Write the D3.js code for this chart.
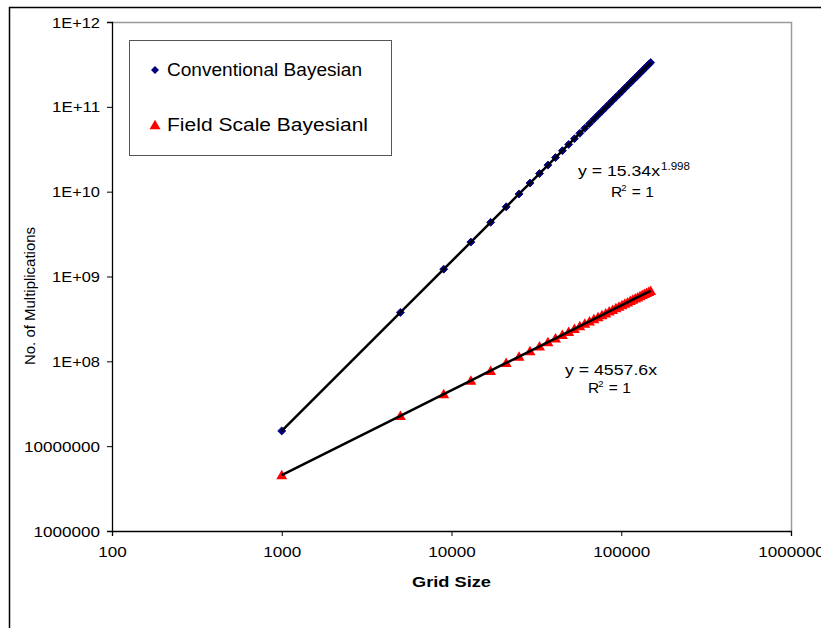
<!DOCTYPE html>
<html>
<head>
<meta charset="utf-8">
<script src="https://cdn.jsdelivr.net/npm/d3@7"></script>
<style>
  body { margin: 0; background: #fff; }
  svg { display: block; font-family: "Liberation Sans", Arial, sans-serif; }
</style>
</head>
<body>
<div id="chart"></div>
<script>
// Grid sizes (shared by both series)
const gridSizes = [1000, 5000, 9000, 13000, 17000, 21000, 25000, 29000, 33000, 37000,
  41000, 45000, 49000, 53000, 57000, 61000, 65000, 69000, 73000, 77000,
  81000, 85000, 89000, 93000, 97000, 101000, 105000, 109000, 113000, 117000,
  121000, 125000, 129000, 133000, 137000, 141000, 145000, 149000];

// Conventional Bayesian: number of multiplications
const conventional = [1.513e7, 3.770e8, 1.220e9, 2.544e9, 4.348e9, 6.632e9, 9.395e9, 1.2639e10, 1.6361e10, 2.0564e10,
  2.5245e10, 3.0405e10, 3.6044e10, 4.2163e10, 4.8761e10, 5.5837e10, 6.3392e10, 7.1425e10, 7.9935e10, 8.893e10,
  9.8395e10, 1.08346e11, 1.18768e11, 1.29674e11, 1.4106e11, 1.52923e11, 1.65254e11, 1.78072e11, 1.91369e11, 2.05143e11,
  2.19395e11, 2.34125e11, 2.49332e11, 2.65017e11, 2.81179e11, 2.97837e11, 3.14955e11, 3.32549e11];

// Field Scale Bayesian: number of multiplications
const fieldScale = [4.5576e6, 2.2788e7, 4.1018e7, 5.9249e7, 7.7479e7, 9.571e7, 1.1394e8, 1.3217e8, 1.50401e8, 1.68631e8,
  1.86862e8, 2.05092e8, 2.23322e8, 2.41553e8, 2.59783e8, 2.78014e8, 2.96244e8, 3.14474e8, 3.32705e8, 3.50935e8,
  3.69166e8, 3.87396e8, 4.05626e8, 4.23857e8, 4.42087e8, 4.60318e8, 4.78548e8, 4.96778e8, 5.15009e8, 5.33239e8,
  5.5147e8, 5.697e8, 5.8793e8, 6.06161e8, 6.24391e8, 6.42622e8, 6.60852e8, 6.79082e8];

// Axis ticks and labels
const xTicks = [100, 1000, 10000, 100000, 1000000];
const xTickLabels = ["100", "1000", "10000", "100000", "1000000"];
const yTicks = [1e6, 1e7, 1e8, 1e9, 1e10, 1e11, 1e12];
const yTickLabels = ["1000000", "10000000", "1E+08", "1E+09", "1E+10", "1E+11", "1E+12"];

const seriesNames = ["Conventional Bayesian", "Field Scale Bayesianl"];

const W = 821, H = 628;
const plot = { left: 112, right: 791, top: 22, bottom: 531 };

const svg = d3.select("#chart").append("svg")
  .attr("width", W)
  .attr("height", H);

// outer chart frame (runs off the right and bottom of the picture)
svg.append("rect")
  .attr("x", 9.5).attr("y", 7.5)
  .attr("width", W + 20).attr("height", H + 20)
  .attr("fill", "none")
  .attr("stroke", "#000")
  .attr("stroke-width", 1.5);

const x = d3.scaleLog().domain([100, 1e6]).range([plot.left, plot.right]);
const y = d3.scaleLog().domain([1e6, 1e12]).range([plot.bottom, plot.top]);

// plot area: grey top / right edges
svg.append("path")
  .attr("d", `M${plot.left},${plot.top + 0.5}H${plot.right + 0.5}V${plot.bottom}`)
  .attr("fill", "none")
  .attr("stroke", "#9a9a9a")
  .attr("stroke-width", 1.5);

// the original text is drawn a bit wide, so stretch labels to its widths
const labelWidth = (s) => (s.includes("E") ? 48 : s.length * 9.5);

// Axes
const xAxis = svg.append("g")
  .attr("transform", `translate(0,${plot.bottom})`)
  .call(d3.axisBottom(x).tickValues(xTicks).tickSize(5).tickPadding(11)
    .tickFormat((d, i) => xTickLabels[i]));

const yAxis = svg.append("g")
  .attr("transform", `translate(${plot.left},0)`)
  .call(d3.axisLeft(y).tickValues(yTicks).tickSize(5).tickPadding(7)
    .tickFormat((d, i) => yTickLabels[i]));

[xAxis, yAxis].forEach((g) => {
  g.select(".domain").attr("stroke", "#000").attr("stroke-width", 1.3);
  g.selectAll(".tick line").attr("stroke", "#000");
  g.selectAll(".tick text")
    .attr("fill", "#000")
    .attr("font-size", 14)
    .attr("font-family", "Liberation Sans, Arial, sans-serif")
    .attr("lengthAdjust", "spacingAndGlyphs")
    .attr("textLength", function () { return labelWidth(this.textContent); });
});
yAxis.selectAll(".tick text").attr("dy", "0.36em");

// Axis titles
svg.append("text")
  .attr("x", (plot.left + plot.right) / 2)
  .attr("y", 587)
  .attr("text-anchor", "middle")
  .attr("font-size", 14)
  .attr("font-weight", "bold")
  .attr("lengthAdjust", "spacingAndGlyphs")
  .attr("textLength", 79)
  .text("Grid Size");

svg.append("text")
  .attr("transform", "translate(35,296) rotate(-90)")
  .attr("text-anchor", "middle")
  .attr("font-size", 14)
  .attr("lengthAdjust", "spacingAndGlyphs")
  .attr("textLength", 138)
  .text("No. of Multiplications");

const diamond = d3.symbol(d3.symbolSquare, 32);
const triangle = d3.symbol(d3.symbolTriangle, 52);

const conventionalData = gridSizes.map((g, i) => ({ x: g, y: conventional[i] }));
const fieldData = gridSizes.map((g, i) => ({ x: g, y: fieldScale[i] }));

// markers
svg.append("g").selectAll("path")
  .data(conventionalData)
  .join("path")
  .attr("d", diamond)
  .attr("transform", (d) => `translate(${x(d.x)},${y(d.y)}) rotate(45)`)
  .attr("fill", "#000080")
  .attr("stroke", "#000080")
  .attr("stroke-width", 0.8);

svg.append("g").selectAll("path")
  .data(fieldData)
  .join("path")
  .attr("d", triangle)
  .attr("transform", (d) => `translate(${x(d.x)},${y(d.y) + 1})`)
  .attr("fill", "#ff0000");

// black trend lines on top
const line = d3.line().x((d) => x(d.x)).y((d) => y(d.y));
[conventionalData, fieldData].forEach((data) => {
  svg.append("path")
    .datum(data)
    .attr("d", line)
    .attr("fill", "none")
    .attr("stroke", "#000")
    .attr("stroke-width", 2.5);
});

// Trend line equations
function eqText(xPos, yPos, main, width) {
  return svg.append("text")
    .attr("x", xPos).attr("y", yPos)
    .attr("font-size", 15.5)
    .attr("lengthAdjust", "spacingAndGlyphs")
    .attr("textLength", width)
    .text(main);
}

eqText(578, 176, "y = 15.34x", 82);
svg.append("text")
  .attr("x", 661).attr("y", 170)
  .attr("font-size", 10.5)
  .attr("lengthAdjust", "spacingAndGlyphs")
  .attr("textLength", 29)
  .text("1.998");

function rSquared(xPos, yPos) {
  const t = svg.append("text")
    .attr("x", xPos).attr("y", yPos)
    .attr("font-size", 15.5);
  t.append("tspan").text("R");
  t.append("tspan").attr("dy", -6).attr("font-size", 9.5).attr("dx", -1).text("2");
  t.append("tspan").attr("dy", 6).attr("dx", 1).text(" = 1");
  return t;
}
rSquared(611, 197);

eqText(565, 375, "y = 4557.6x", 92);
rSquared(588, 393);

// Legend
const legend = svg.append("g");
legend.append("rect")
  .attr("x", 129.5).attr("y", 40.5)
  .attr("width", 262).attr("height", 115)
  .attr("fill", "#fff")
  .attr("stroke", "#555")
  .attr("stroke-width", 1);

legend.append("path")
  .attr("d", diamond)
  .attr("transform", "translate(155,70) rotate(45)")
  .attr("fill", "#000080");
legend.append("path")
  .attr("d", triangle)
  .attr("transform", "translate(155,126)")
  .attr("fill", "#ff0000");

const legendWidths = [195, 201];
seriesNames.forEach((name, i) => {
  legend.append("text")
    .attr("x", 167)
    .attr("y", i === 0 ? 76 : 131)
    .attr("font-size", 17.5)
    .attr("lengthAdjust", "spacingAndGlyphs")
    .attr("textLength", legendWidths[i])
    .text(name);
});
</script>
</body>
</html>
